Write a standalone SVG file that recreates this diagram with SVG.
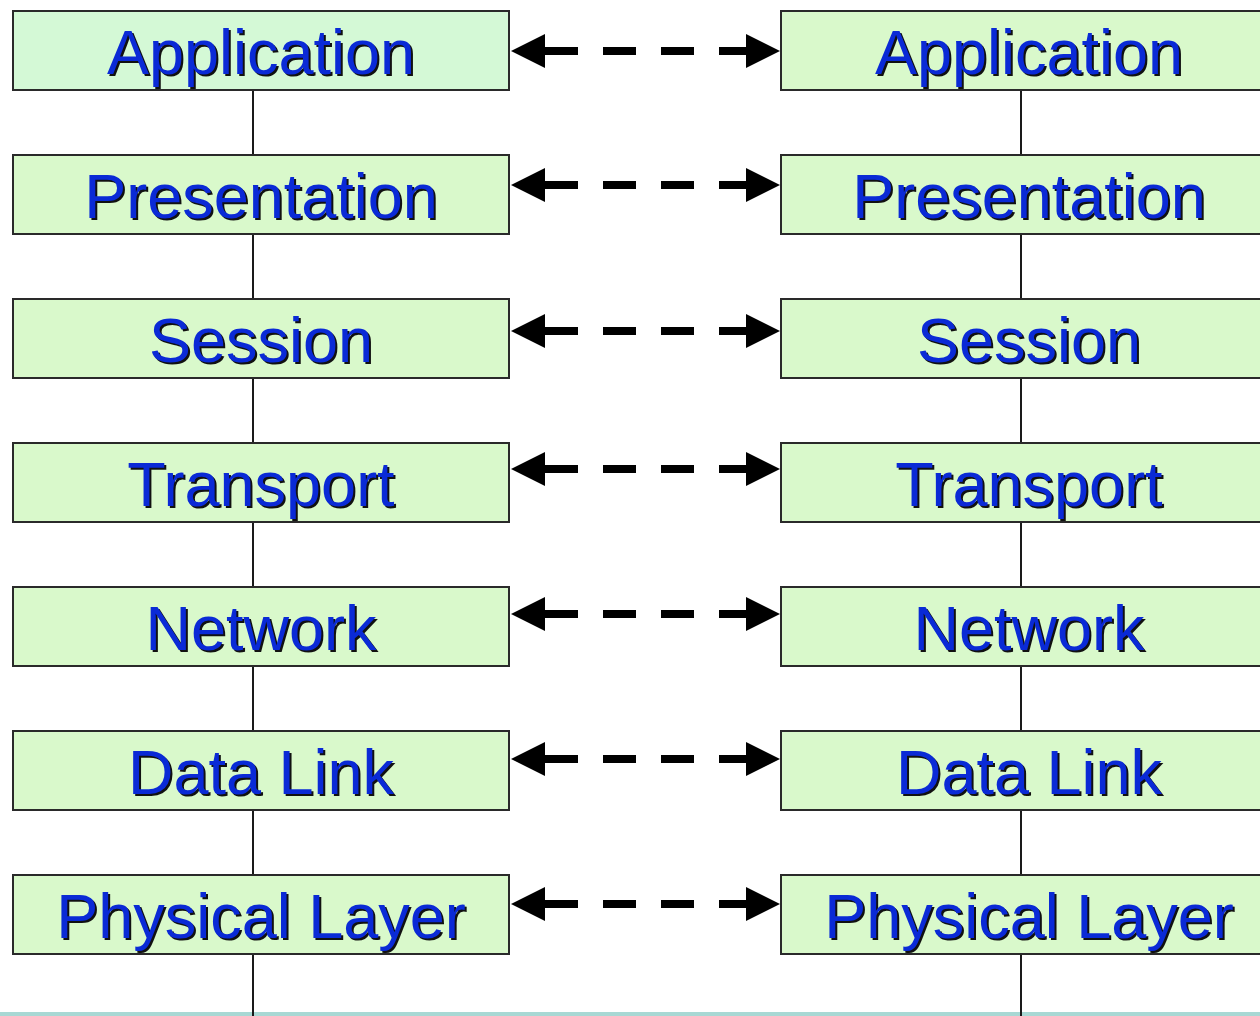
<svg xmlns="http://www.w3.org/2000/svg" width="1260" height="1016" viewBox="0 0 1260 1016">
  <defs>
    <style>
      .box { fill: #d9f9cb; stroke: #2a2a2a; stroke-width: 2; }
      .box.top { fill: #d4f9d6; }
      .lbl { font-family: "Liberation Sans", Arial, sans-serif; font-size: 63px; text-anchor: middle; }
      .shadow { fill: #111111; }
      .face { fill: #0a2ad6; }
      .stack { stroke: #1a1a1a; stroke-width: 2; fill: none; }
      .peer { stroke: #000000; stroke-width: 8; stroke-dasharray: 33 25; fill: none; }
      .head { fill: #000000; }
    </style>
  </defs>

  <rect width="1260" height="1016" fill="#ffffff"/>
  <!-- strip along the bottom edge -->
  <rect x="0" y="1012" width="1260" height="4" fill="#a8d8d4"/>

  <!-- vertical stack lines through each side -->
  <g id="connectors">
    <line class="stack" x1="253" y1="90" x2="253" y2="1016"/>
    <line class="stack" x1="1021" y1="90" x2="1021" y2="1016"/>

    <!-- peer-to-peer dashed double arrows -->
    <g id="peer-application">
      <line class="peer" x1="545" y1="51" x2="746" y2="51"/>
      <polygon class="head" points="511,51 545,34 545,68"/>
      <polygon class="head" points="780,51 746,34 746,68"/>
    </g>
    <g id="peer-presentation">
      <line class="peer" x1="545" y1="185" x2="746" y2="185"/>
      <polygon class="head" points="511,185 545,168 545,202"/>
      <polygon class="head" points="780,185 746,168 746,202"/>
    </g>
    <g id="peer-session">
      <line class="peer" x1="545" y1="331" x2="746" y2="331"/>
      <polygon class="head" points="511,331 545,314 545,348"/>
      <polygon class="head" points="780,331 746,314 746,348"/>
    </g>
    <g id="peer-transport">
      <line class="peer" x1="545" y1="469" x2="746" y2="469"/>
      <polygon class="head" points="511,469 545,452 545,486"/>
      <polygon class="head" points="780,469 746,452 746,486"/>
    </g>
    <g id="peer-network">
      <line class="peer" x1="545" y1="614" x2="746" y2="614"/>
      <polygon class="head" points="511,614 545,597 545,631"/>
      <polygon class="head" points="780,614 746,597 746,631"/>
    </g>
    <g id="peer-datalink">
      <line class="peer" x1="545" y1="759" x2="746" y2="759"/>
      <polygon class="head" points="511,759 545,742 545,776"/>
      <polygon class="head" points="780,759 746,742 746,776"/>
    </g>
    <g id="peer-physical">
      <line class="peer" x1="545" y1="904" x2="746" y2="904"/>
      <polygon class="head" points="511,904 545,887 545,921"/>
      <polygon class="head" points="780,904 746,887 746,921"/>
    </g>
  </g>

  <!-- left stack -->
  <g id="left-application">
    <rect class="box top" x="13" y="11" width="496" height="79"/>
    <text class="lbl shadow" x="263" y="76">Application</text>
    <text class="lbl face" x="261" y="74">Application</text>
  </g>
  <g id="left-presentation">
    <rect class="box" x="13" y="155" width="496" height="79"/>
    <text class="lbl shadow" x="263" y="220">Presentation</text>
    <text class="lbl face" x="261" y="218">Presentation</text>
  </g>
  <g id="left-session">
    <rect class="box" x="13" y="299" width="496" height="79"/>
    <text class="lbl shadow" x="263" y="364">Session</text>
    <text class="lbl face" x="261" y="362">Session</text>
  </g>
  <g id="left-transport">
    <rect class="box" x="13" y="443" width="496" height="79"/>
    <text class="lbl shadow" x="263" y="508">Transport</text>
    <text class="lbl face" x="261" y="506">Transport</text>
  </g>
  <g id="left-network">
    <rect class="box" x="13" y="587" width="496" height="79"/>
    <text class="lbl shadow" x="263" y="652">Network</text>
    <text class="lbl face" x="261" y="650">Network</text>
  </g>
  <g id="left-datalink">
    <rect class="box" x="13" y="731" width="496" height="79"/>
    <text class="lbl shadow" x="263" y="796">Data Link</text>
    <text class="lbl face" x="261" y="794">Data Link</text>
  </g>
  <g id="left-physical">
    <rect class="box" x="13" y="875" width="496" height="79"/>
    <text class="lbl shadow" x="263" y="940">Physical Layer</text>
    <text class="lbl face" x="261" y="938">Physical Layer</text>
  </g>

  <!-- right stack -->
  <g id="right-application">
    <rect class="box" x="781" y="11" width="497" height="79"/>
    <text class="lbl shadow" x="1031" y="76">Application</text>
    <text class="lbl face" x="1029" y="74">Application</text>
  </g>
  <g id="right-presentation">
    <rect class="box" x="781" y="155" width="497" height="79"/>
    <text class="lbl shadow" x="1031" y="220">Presentation</text>
    <text class="lbl face" x="1029" y="218">Presentation</text>
  </g>
  <g id="right-session">
    <rect class="box" x="781" y="299" width="497" height="79"/>
    <text class="lbl shadow" x="1031" y="364">Session</text>
    <text class="lbl face" x="1029" y="362">Session</text>
  </g>
  <g id="right-transport">
    <rect class="box" x="781" y="443" width="497" height="79"/>
    <text class="lbl shadow" x="1031" y="508">Transport</text>
    <text class="lbl face" x="1029" y="506">Transport</text>
  </g>
  <g id="right-network">
    <rect class="box" x="781" y="587" width="497" height="79"/>
    <text class="lbl shadow" x="1031" y="652">Network</text>
    <text class="lbl face" x="1029" y="650">Network</text>
  </g>
  <g id="right-datalink">
    <rect class="box" x="781" y="731" width="497" height="79"/>
    <text class="lbl shadow" x="1031" y="796">Data Link</text>
    <text class="lbl face" x="1029" y="794">Data Link</text>
  </g>
  <g id="right-physical">
    <rect class="box" x="781" y="875" width="497" height="79"/>
    <text class="lbl shadow" x="1031" y="940">Physical Layer</text>
    <text class="lbl face" x="1029" y="938">Physical Layer</text>
  </g>
</svg>
